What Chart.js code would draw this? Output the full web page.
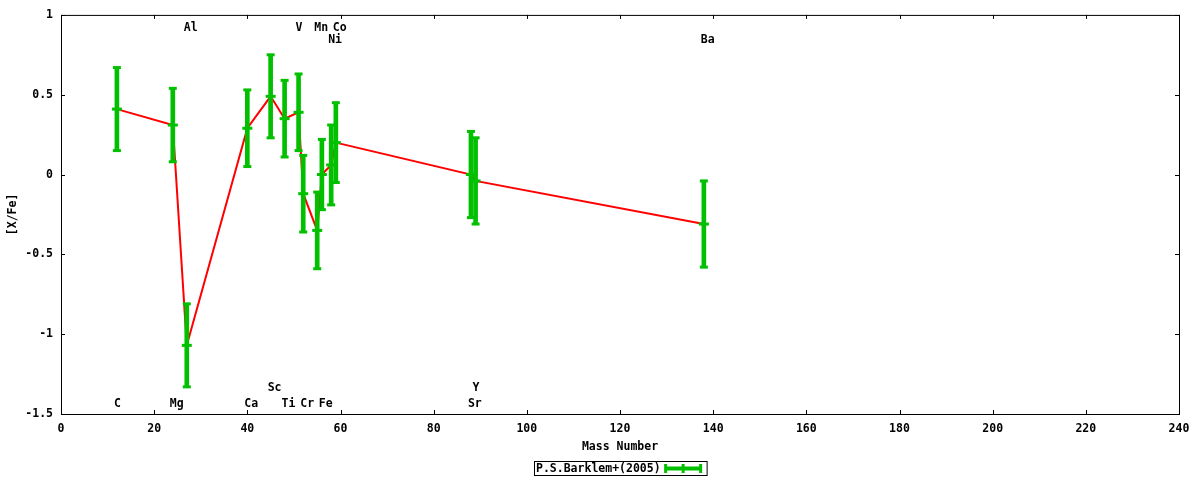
<!DOCTYPE html>
<html>
<head>
<meta charset="utf-8">
<script src="https://cdn.jsdelivr.net/npm/chart.js@4/dist/chart.umd.min.js"></script>
<style>
  html, body { margin: 0; padding: 0; background: #fff; }
</style>
</head>
<body>
<canvas id="chart" width="1200" height="480"></canvas>
<script>
// Barklem et al. (2005) abundance ratios
const elements = ["C", "Mg", "Al", "Ca", "Sc", "Ti", "V", "Cr", "Mn", "Fe", "Ni", "Co", "Sr", "Y", "Ba"];
const massNumber = [12, 24, 27, 40, 45, 48, 51, 52, 55, 56, 58, 59, 88, 89, 138];
const xfe = [0.41, 0.31, -1.07, 0.29, 0.49, 0.35, 0.39, -0.12, -0.35, 0.00, 0.06, 0.20, 0.00, -0.04, -0.31];
const xfeErr = [0.26, 0.23, 0.26, 0.24, 0.26, 0.24, 0.24, 0.24, 0.24, 0.22, 0.25, 0.25, 0.27, 0.27, 0.27];
// which text row each element name sits in (0,1 = top, 2,3 = bottom)
const labelRow = [3, 3, 0, 3, 2, 3, 0, 3, 0, 3, 1, 0, 3, 2, 1];
const rowLevel = [0.92, 0.845, -1.335, -1.435];
const xTicks = { min: 0, max: 240, step: 20 };
const yTicks = { min: -1.5, max: 1, step: 0.5 };
const seriesName = "P.S.Barklem+(2005)";

const green = "#00c000";
const red = "#ff0000";
const fontFamily = "'DejaVu Sans Mono', 'Liberation Mono', monospace";
const font = { family: fontFamily, size: 11.5, weight: "bold" };

const points = massNumber.map((m, i) => ({ x: m, y: xfe[i] }));
const ranges = massNumber.map((m, i) => ({ x: m, y: [xfe[i] - xfeErr[i], xfe[i] + xfeErr[i]] }));
const caps = [];
massNumber.forEach((m, i) => {
    caps.push({ x: m, y: xfe[i] - xfeErr[i] });
    caps.push({ x: m, y: xfe[i] + xfeErr[i] });
});

const framePlugin = {
    id: "frame",
    afterDatasetsDraw(chart) {
        const { ctx, chartArea: a, scales } = chart;
        const xs = scales.x, ys = scales.y;
        ctx.save();
        ctx.strokeStyle = "#000";
        ctx.lineWidth = 1;
        ctx.strokeRect(a.left + 0.5, a.top + 0.5, a.right - a.left, a.bottom - a.top);
        // ticks drawn inward on all four sides
        ctx.beginPath();
        xs.ticks.forEach(t => {
            const px = Math.round(xs.getPixelForValue(t.value)) + 0.5;
            ctx.moveTo(px, a.bottom); ctx.lineTo(px, a.bottom - 4);
            ctx.moveTo(px, a.top); ctx.lineTo(px, a.top + 4);
        });
        ys.ticks.forEach(t => {
            const py = Math.round(ys.getPixelForValue(t.value)) + 0.5;
            ctx.moveTo(a.left, py); ctx.lineTo(a.left + 4, py);
            ctx.moveTo(a.right, py); ctx.lineTo(a.right - 4, py);
        });
        ctx.stroke();

        // element names
        ctx.fillStyle = "#000";
        ctx.font = "bold 11.5px " + fontFamily;
        ctx.textAlign = "left";
        ctx.textBaseline = "middle";
        elements.forEach((el, i) => {
            const px = xs.getPixelForValue(massNumber[i]) - 3;
            const py = ys.getPixelForValue(rowLevel[labelRow[i]]);
            ctx.fillText(el, px, py);
        });
        ctx.restore();
    },
    afterDraw(chart) {
        // key box under the axis title
        const { ctx, chartArea: a } = chart;
        ctx.save();
        ctx.font = "bold 11.5px " + fontFamily;
        const tw = ctx.measureText(seriesName).width;
        const w = tw + 48, h = 14;
        const cx = (a.left + a.right) / 2;
        const bx = Math.round(cx - w / 2) + 0.5, by = 461.5;
        ctx.strokeStyle = "#000";
        ctx.lineWidth = 1;
        ctx.strokeRect(bx, by, w, h);
        ctx.fillStyle = "#000";
        ctx.textAlign = "left";
        ctx.textBaseline = "middle";
        ctx.fillText(seriesName, bx + 1.5, by + h / 2 + 0.5);
        ctx.fillStyle = green;
        const sx = bx + w - 42, ex = bx + w - 6, sy = by + h / 2;
        ctx.fillRect(sx, sy - 2, ex - sx, 4);
        ctx.fillRect(sx - 1, sy - 4.5, 3, 9);
        ctx.fillRect(ex - 2, sy - 4.5, 3, 9);
        ctx.fillRect((sx + ex) / 2 - 1.5, sy - 4.5, 3, 9);
        ctx.restore();
    }
};

new Chart(document.getElementById("chart"), {
    type: "line",
    data: {
        datasets: [
            {
                type: "line",
                label: "trend",
                data: points,
                borderColor: red,
                borderWidth: 2,
                pointRadius: 0,
                fill: false,
                tension: 0,
                order: 4
            },
            {
                type: "bar",
                label: seriesName,
                data: ranges,
                backgroundColor: green,
                borderWidth: 0,
                barThickness: 4,
                grouped: false,
                order: 3
            },
            {
                type: "scatter",
                label: "caps",
                data: caps,
                pointStyle: "line",
                pointRadius: 4,
                borderWidth: 3,
                borderColor: green,
                showLine: false,
                order: 2
            },
            {
                type: "scatter",
                label: "centre",
                data: points,
                pointStyle: "line",
                pointRadius: 5,
                borderWidth: 3,
                borderColor: green,
                showLine: false,
                order: 1
            }
        ]
    },
    options: {
        responsive: false,
        animation: false,
        events: [],
        layout: { padding: { top: 13, right: 21, left: 0, bottom: 0 } },
        scales: {
            x: {
                type: "linear",
                offset: false,
                min: xTicks.min,
                max: xTicks.max,
                ticks: { stepSize: xTicks.step, color: "#000", font: font, padding: 8, maxRotation: 0 },
                grid: { display: false, drawTicks: false },
                border: { display: false },
                title: { display: true, text: "Mass Number", color: "#000", font: font, padding: { top: 0, bottom: 26 } },
                afterFit: (scale) => { scale.height = 66; }
            },
            y: {
                type: "linear",
                min: yTicks.min,
                max: yTicks.max,
                ticks: {
                    stepSize: yTicks.step, color: "#000", font: font, padding: 8,
                    callback: (v) => String(Math.round(v * 10) / 10)
                },
                grid: { display: false, drawTicks: false },
                border: { display: false },
                title: { display: true, text: "[X/Fe]", color: "#000", font: font, padding: { top: 6, bottom: 0 } },
                afterFit: (scale) => { scale.width = 61; }
            }
        },
        plugins: {
            legend: { display: false },
            tooltip: { enabled: false }
        }
    },
    plugins: [framePlugin]
});
</script>
</body>
</html>
